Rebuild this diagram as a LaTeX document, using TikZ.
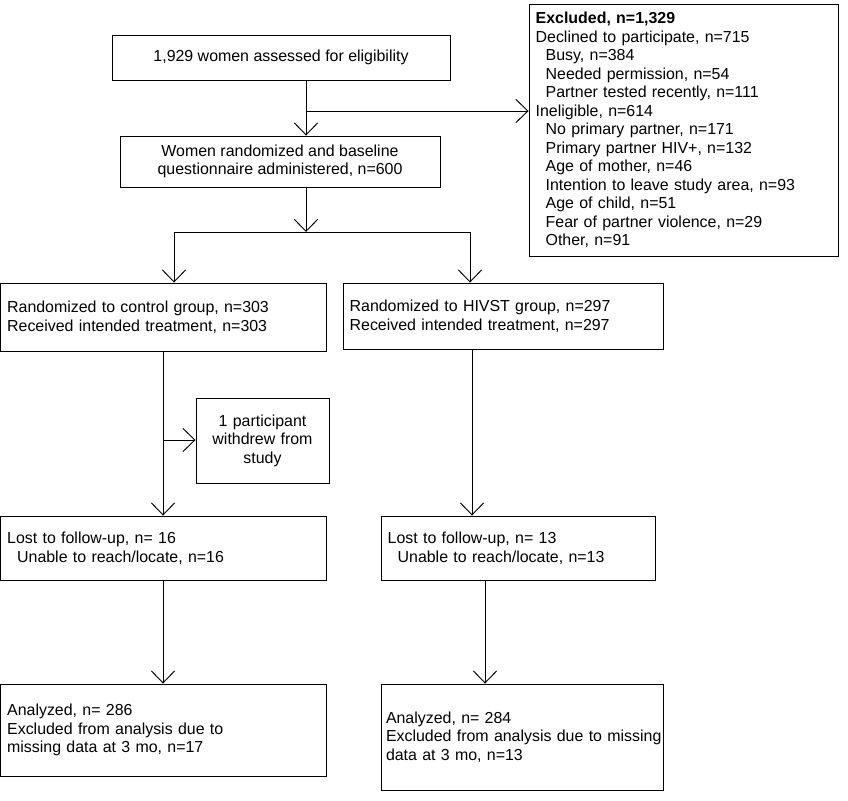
\documentclass[tikz,border=0pt]{standalone}
\usepackage{fontspec}
\setmainfont{Liberation Sans}
\usetikzlibrary{arrows.meta}
\begin{document}
\begin{tikzpicture}
[x = 0.03cm, y = -0.03cm,
box/.style = {draw, line width=0.8pt, inner xsep=0.2cm, font=\fontsize{13.6}{15.8}\selectfont},
lbox/.style = {box, align=left},
cbox/.style = {box, align=center},
arr/.style = {-{Straight Barb[length=3.6mm, width=7mm, line width=0.8pt]}, line width=0.8pt},
]
\useasboundingbox (0,0) rectangle (848,800);
\node [cbox, minimum width=10.14cm, minimum height=1.35cm] (assess) at (281,57.5)
{1,929 women assessed for eligibility};
\node [lbox, text width=8.87cm, minimum height=7.56cm] (excl) at (683.5,130)
{\textbf{Excluded, n=1,329}\\
Declined to participate, n=715\\
\hspace*{0.3cm}Busy, n=384\\
\hspace*{0.3cm}Needed permission, n=54\\
\hspace*{0.3cm}Partner tested recently, n=111\\
Ineligible, n=614\\
\hspace*{0.3cm}No primary partner, n=171\\
\hspace*{0.3cm}Primary partner HIV+, n=132\\
\hspace*{0.3cm}Age of mother, n=46\\
\hspace*{0.3cm}Intention to leave study area, n=93\\
\hspace*{0.3cm}Age of child, n=51\\
\hspace*{0.3cm}Fear of partner violence, n=29\\
\hspace*{0.3cm}Other, n=91};
\node [cbox, minimum width=9.6cm, minimum height=1.53cm] (rand) at (280,161.5)
{Women randomized and baseline\\questionnaire administered, n=600};
\node [lbox, text width=9.38cm, minimum height=2.04cm] (ctl) at (163.5,317)
{Randomized to control group, n=303\\Received intended treatment, n=303};
\node [lbox, text width=9.2cm, minimum height=1.98cm] (hivst) at (503,316)
{Randomized to HIVST group, n=297\\Received intended treatment, n=297};
\node [cbox, text width=3.59cm, minimum height=2.55cm] (wd) at (262.5,440.5)
{1 participant\\withdrew from\\study};
\node [lbox, text width=9.38cm, minimum height=1.92cm] (lostl) at (163.5,548)
{Lost to follow-up, n= 16\\\hspace*{0.3cm}Unable to reach/locate, n=16};
\node [lbox, text width=7.82cm, minimum height=1.92cm] (lostr) at (518,548)
{Lost to follow-up, n= 13\\\hspace*{0.3cm}Unable to reach/locate, n=13};
\node [lbox, text width=9.38cm, minimum height=2.76cm] (anl) at (163.5,730)
{Analyzed, n= 286\\Excluded from analysis due to\\missing data at 3 mo, n=17};
\node [lbox, inner xsep=0.15cm, text width=8.16cm, minimum height=3.18cm] (anr) at (522,737)
{Analyzed, n= 284\\\mbox{Excluded from analysis due to missing}\\data at 3 mo, n=13};
% junctions
\coordinate (j1) at (306,111);
\coordinate (j2) at (306,232);
\coordinate (jl) at (174,232);
\coordinate (jr) at (470,232);
\coordinate (jw) at (163,440);
\draw [arr] (assess.south -| j1) -- (rand.north -| j1);
\draw [arr] (j1) -- (excl.west |- j1);
\draw [arr] (rand.south -| j2) -- (j2);
\draw [line width=0.8pt] (jl) -- (jr);
\draw [arr] (jl) -- (ctl.north -| jl);
\draw [arr] (jr) -- (hivst.north -| jr);
\draw [arr] (ctl.south -| jw) -- (lostl.north -| jw);
\draw [arr] (jw) -- (wd.west |- jw);
\draw [arr] (hivst.south -| 472,0) -- (lostr.north -| 472,0);
\draw [arr] (lostl.south -| jw) -- (anl.north -| jw);
\draw [arr] (lostr.south -| 485,0) -- (anr.north -| 485,0);
\end{tikzpicture}
\end{document}
